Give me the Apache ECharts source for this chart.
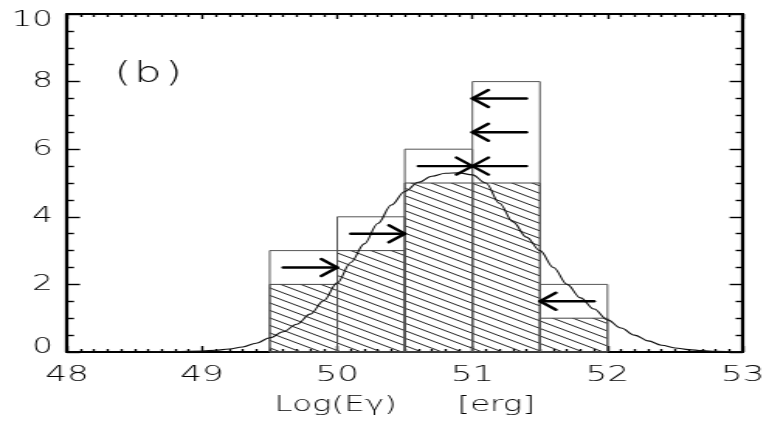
<!DOCTYPE html>
<html>
<head>
<meta charset="utf-8">
<script src="https://cdn.jsdelivr.net/npm/echarts@6/dist/echarts.min.js"></script>
<style>
  html, body { margin: 0; padding: 0; background: #fff; overflow: hidden; }
  /* the plot is laid out narrow and widened horizontally, like the wide
     stroked lettering of the original plotting package */
  #chart { width: 496px; height: 423px; transform-origin: 0 0; }
</style>
</head>
<body>
<div id="chart"></div>
<script>
// ---- histogram bins: Log(E_gamma) [erg] ----
const binLo = [49.5, 50.0, 50.5, 51.0, 51.5];
const binHi = [50.0, 50.5, 51.0, 51.5, 52.0];
const totalCounts = [3, 4, 6, 8, 2];      // open boxes (all bursts)
const hatchedCounts = [2, 3, 5, 5, 1];    // hatched part (measured values)

// ---- limit arrows ----
const arrowFrom = [49.6, 50.1, 50.6, 51.4, 51.4, 51.4, 51.9];
const arrowTo   = [50.0, 50.5, 51.0, 51.0, 51.0, 51.0, 51.5];
const arrowY    = [2.5, 3.5, 5.5, 5.5, 6.5, 7.5, 1.5];

// ---- fitted curve ----
const curveX = [48.6, 48.8, 49.0, 49.1, 49.2, 49.3, 49.4, 49.5, 49.6, 49.7, 49.8, 49.9,
                50.0, 50.1, 50.2, 50.3, 50.4, 50.5, 50.6, 50.7, 50.8, 50.9, 51.0, 51.1,
                51.2, 51.3, 51.4, 51.5, 51.6, 51.7, 51.8, 51.9, 52.0, 52.1, 52.2, 52.3,
                52.4, 52.5, 52.6, 52.7, 52.8, 53.0];
const curveY = [0.0, 0.01, 0.03, 0.05, 0.09, 0.15, 0.26, 0.42, 0.6, 0.82, 1.12, 1.52,
                2.05, 2.65, 3.2, 3.8, 4.35, 4.75, 5.02, 5.2, 5.29, 5.3, 5.24, 5.0,
                4.4, 3.85, 3.4, 3.0, 2.5, 2.0, 1.6, 1.27, 0.95, 0.71, 0.5, 0.33,
                0.2, 0.12, 0.07, 0.04, 0.02, 0.0];

// ---- axis labels ----
const xTickMin = 48, xTickMax = 53, xTickStep = 1;
const yTickMin = 0, yTickMax = 10, yTickStep = 2;
const panelLabel = 'b';
const xTitleMain = 'Log(Eγ)';
const xTitleUnit = '[erg]';

const STRETCH = 769 / 496;
const el = document.getElementById('chart');
el.style.transform = 'scaleX(' + STRETCH + ')';

// diagonal hatching tile
function hatchTile() {
  const w = 26, h = 15;
  const c = document.createElement('canvas');
  c.width = w; c.height = h;
  const g = c.getContext('2d');
  g.strokeStyle = '#222';
  g.lineWidth = 1;
  for (let k = -2; k <= 2; k++) {
    const off = k * h / 2;
    g.beginPath();
    g.moveTo(0, off);
    g.lineTo(w, off + h);
    g.stroke();
  }
  return c;
}
const hatchFill = { image: hatchTile(), repeat: 'repeat' };

const histData = binLo.map((lo, i) => [lo, binHi[i], totalCounts[i], hatchedCounts[i]]);
const arrowData = arrowFrom.map((f, i) => [f, arrowTo[i], arrowY[i]]);
const curveData = curveX.map((x, i) => [x, curveY[i]]);

const FONT = 'DejaVu Sans';
const WEIGHT = 200;
const ink = '#000';

function frameAxis(pos, isX, showLabel) {
  const ax = {
    type: 'value',
    position: pos,
    min: isX ? xTickMin : yTickMin,
    max: isX ? xTickMax : yTickMax,
    interval: isX ? xTickStep : yTickStep,
    axisLine: { show: true, onZero: false, lineStyle: { color: '#000', width: 2.2 } },
    axisTick: { show: true, inside: true, length: isX ? (pos === 'top' ? 5 : 6) : 8.4,
                lineStyle: { color: '#000', width: 1.4 } },
    minorTick: { show: true, splitNumber: isX ? 10 : 4, length: isX ? 3 : 4.5,
                 lineStyle: { color: '#000', width: 1.4 } },
    splitLine: { show: false },
    minorSplitLine: { show: false },
    axisLabel: { show: showLabel, color: ink, fontFamily: FONT, fontWeight: WEIGHT,
                 fontSize: isX ? 22 : 21, margin: isX ? 12 : 9 }
  };
  return ax;
}

const xMain = frameAxis('bottom', true, true);
xMain.name = '{a|' + xTitleMain + '}{g| }{a|' + xTitleUnit + '}';
xMain.nameLocation = 'middle';
xMain.nameGap = 43;
xMain.nameTextStyle = {
  rich: {
    a: { fontFamily: FONT, fontWeight: WEIGHT, fontSize: 21, color: ink },
    g: { width: 39 }
  }
};

const yMain = frameAxis('left', false, true);
// end labels sit inside the frame height, as the plotting package places them
yMain.axisLabel.formatter = function (v) {
  if (v === yTickMax) return '{hi|' + v + '}';
  if (v === yTickMin) return '{lo|' + v + '}';
  return '{n|' + v + '}';
};
const yRich = { fontFamily: FONT, fontWeight: WEIGHT, fontSize: 21, color: ink };
yMain.axisLabel.rich = {
  n: yRich,
  hi: Object.assign({ padding: [13, 0, 0, 0] }, yRich),
  lo: Object.assign({ padding: [0, 0, 9, 0] }, yRich)
};

const chart = echarts.init(el, null, { renderer: 'canvas' });
chart.setOption({
  animation: false,
  backgroundColor: '#fff',
  grid: { left: 43.2, right: 15.5, top: 14, bottom: 71, containLabel: false },
  xAxis: [xMain, frameAxis('top', true, false)],
  yAxis: [yMain, frameAxis('right', false, false)],
  graphic: [{
    type: 'text',
    x: 95.5, y: 75,
    style: {
      text: '{p|(}{g| }{p|' + panelLabel + '}{g| }{p|)}',
      rich: {
        p: { fontFamily: FONT, fontWeight: WEIGHT, fontSize: 28, fill: ink },
        g: { width: 2 }
      },
      align: 'center', verticalAlign: 'middle'
    }
  }],
  series: [
    {
      type: 'custom',
      name: 'histogram',
      xAxisIndex: 0, yAxisIndex: 0,
      data: histData,
      encode: { x: [0, 1], y: [2, 3] },
      renderItem: function (params, api) {
        const lo = api.value(0), hi = api.value(1), tot = api.value(2), hat = api.value(3);
        const base = api.coord([lo, 0]);
        const topT = api.coord([hi, tot]);
        const topH = api.coord([hi, hat]);
        return {
          type: 'group',
          children: [
            { type: 'rect',
              shape: { x: base[0], y: topH[1], width: topH[0] - base[0], height: base[1] - topH[1] },
              style: { fill: hatchFill, stroke: '#444', lineWidth: 1 } },
            { type: 'rect',
              shape: { x: base[0], y: topT[1], width: topT[0] - base[0], height: base[1] - topT[1] },
              style: { fill: 'none', stroke: '#555', lineWidth: 1 } }
          ]
        };
      },
      z: 2
    },
    {
      type: 'line',
      name: 'fit',
      xAxisIndex: 0, yAxisIndex: 0,
      data: curveData,
      showSymbol: false,
      symbol: 'none',
      smooth: 0.35,
      smoothMonotone: 'x',
      lineStyle: { color: '#111', width: 1.1 },
      z: 3
    },
    {
      type: 'custom',
      name: 'limits',
      xAxisIndex: 0, yAxisIndex: 0,
      data: arrowData,
      encode: { x: [0, 1], y: 2 },
      renderItem: function (params, api) {
        const a = api.coord([api.value(0), api.value(2)]);
        const b = api.coord([api.value(1), api.value(2)]);
        const dir = b[0] > a[0] ? 1 : -1;
        const L = 10.3, H = 8.5;
        const st = { stroke: '#000', lineWidth: 2.4, fill: 'none', lineCap: 'round', lineJoin: 'round' };
        return {
          type: 'group',
          children: [
            { type: 'line', shape: { x1: a[0], y1: a[1], x2: b[0], y2: b[1] }, style: st },
            { type: 'polyline',
              shape: { points: [[b[0] - dir * L, b[1] - H], [b[0], b[1]], [b[0] - dir * L, b[1] + H]] },
              style: st }
          ]
        };
      },
      z: 4
    }
  ]
});
</script>
</body>
</html>
